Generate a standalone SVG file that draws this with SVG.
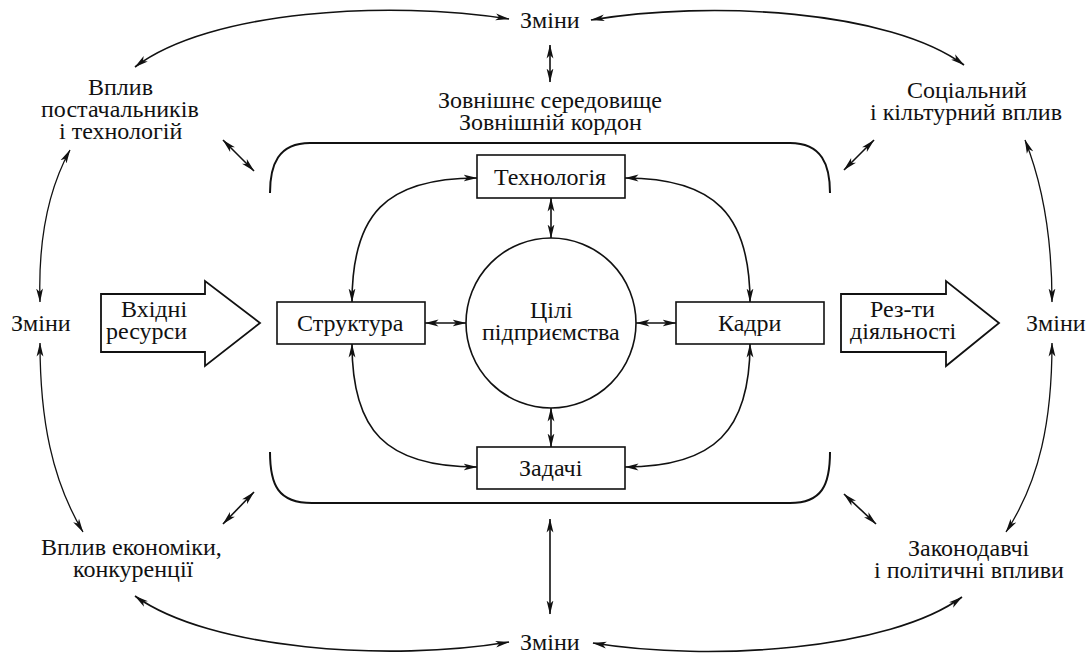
<svg xmlns="http://www.w3.org/2000/svg" width="1088" height="654" viewBox="0 0 1088 654">
<defs>
<marker id="ah" viewBox="0 0 14 8" refX="13.5" refY="4" markerWidth="14" markerHeight="8" markerUnits="userSpaceOnUse" orient="auto-start-reverse">
<path d="M0,0.6 L14,4 L0,7.4 L3.5,4 z" fill="#111"/>
</marker>
</defs>
<rect width="1088" height="654" fill="#fff"/>

<g id="boundary" fill="none" stroke="#111" stroke-width="2">
<path d="M270,193 C270,165 278,143 310,143 L790,143 C822,143 830,165 830,193"/>
<path d="M270,452 C270,485 278,503 312,503 L790,503 C822,503 830,485 830,452"/>
</g>

<g id="connectors" fill="none" stroke="#111" stroke-width="1.6" marker-start="url(#ah)" marker-end="url(#ah)">
<path d="M509,19 C390,0 210,10 135,67"/>
<path d="M591,20 C710,0 890,10 964,65"/>
<path d="M509,642 C390,662 210,650 135,596"/>
<path d="M593,643 C710,662 890,650 962,597"/>
<path stroke-width="1.3" d="M40,302 C38,240 48,190 70,150"/>
<path stroke-width="1.3" d="M40,343 C40,420 52,480 83,532"/>
<path stroke-width="1.3" d="M1052,302 C1052,240 1043,185 1025,140"/>
<path stroke-width="1.3" d="M1052,343 C1052,420 1040,480 1006,532"/>
<line x1="223" y1="140" x2="254" y2="171"/>
<line x1="874" y1="140" x2="844" y2="170"/>
<line x1="223" y1="524" x2="254" y2="492"/>
<line x1="844" y1="494" x2="876" y2="524"/>
<line x1="550" y1="45" x2="550" y2="82"/>
<line x1="550" y1="519" x2="550" y2="614"/>
<path d="M352,302 C352,215 385,178 477,178"/>
<path d="M625,178 C715,178 750,215 750,302"/>
<path d="M352,344 C352,430 385,467 477,467"/>
<path d="M750,344 C750,430 715,467 625,467"/>
<line x1="425" y1="323" x2="466" y2="323"/>
<line x1="636" y1="323" x2="676" y2="323"/>
<line x1="551" y1="198" x2="551" y2="238"/>
<line x1="551" y1="408" x2="551" y2="447"/>
</g>

<g font-family="Liberation Serif" font-size="24" fill="#111">
<g id="changes-top"><text x="520" y="28">Зміни</text></g>
<g id="changes-bottom"><text x="520" y="650">Зміни</text></g>
<g id="changes-left"><text x="11" y="331">Зміни</text></g>
<g id="changes-right"><text x="1026" y="331">Зміни</text></g>

<g id="suppliers">
<text x="88" y="95">Вплив</text>
<text x="41" y="117">постачальників</text>
<text x="59" y="139">і технологій</text>
</g>
<g id="social">
<text x="907" y="98">Соціальний</text>
<text x="870" y="120">і кільтурний вплив</text>
</g>
<g id="economy">
<text x="41" y="555">Вплив економіки,</text>
<text x="73" y="577">конкуренції</text>
</g>
<g id="legal">
<text x="908" y="556">Законодавчі</text>
<text x="874" y="578">і політичні впливи</text>
</g>
<g id="environment">
<text x="438" y="108">Зовнішнє середовище</text>
<text x="459" y="130">Зовнішній кордон</text>
</g>

<g id="input"><polygon points="101,294 205,294 205,281 260,323 205,366 205,352 101,352" fill="#fff" stroke="#111" stroke-width="1.8"/>
<text x="121" y="317">Вхідні</text>
<text x="106" y="339">ресурси</text></g>
<g id="output"><polygon points="841,294 946,294 946,281 999,323 946,366 946,352 841,352" fill="#fff" stroke="#111" stroke-width="1.8"/>
<text x="870" y="317">Рез-ти</text>
<text x="850" y="339">діяльності</text></g>

<g id="technology"><rect x="477" y="155" width="148" height="43" fill="#fff" stroke="#111" stroke-width="1.6"/><text x="494" y="185">Технологія</text></g>
<g id="structure"><rect x="277" y="302" width="148" height="42" fill="#fff" stroke="#111" stroke-width="1.6"/><text x="297" y="331">Структура</text></g>
<g id="staff"><rect x="676" y="302" width="148" height="42" fill="#fff" stroke="#111" stroke-width="1.6"/><text x="718" y="331">Кадри</text></g>
<g id="tasks"><rect x="477" y="447" width="148" height="42" fill="#fff" stroke="#111" stroke-width="1.6"/><text x="519" y="476">Задачі</text></g>
<g id="goals"><circle cx="551" cy="323" r="85" fill="#fff" stroke="#111" stroke-width="1.6"/>
<text x="530" y="318">Цілі</text>
<text x="482" y="340">підприємства</text></g>
</g>
</svg>
